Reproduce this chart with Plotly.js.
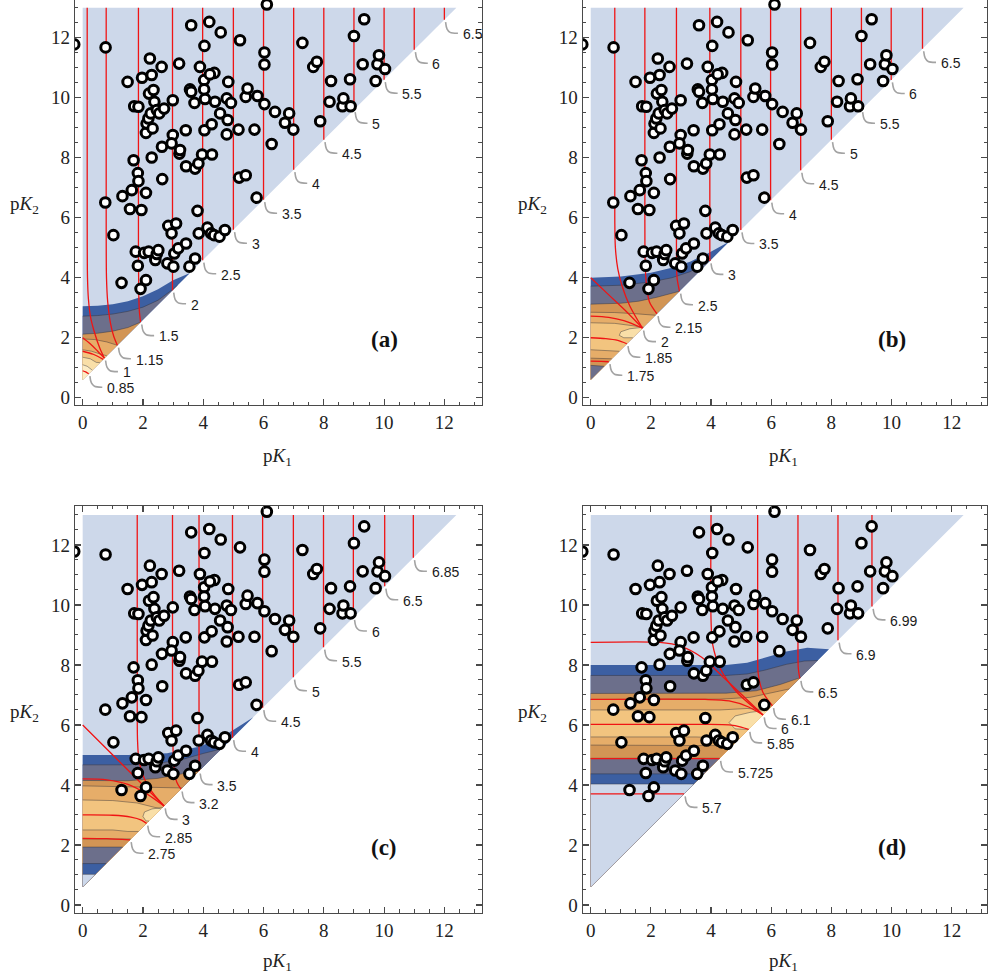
<!DOCTYPE html>
<html><head><meta charset="utf-8">
<script src="https://cdn.plot.ly/plotly-3.0.1.min.js"></script>
<style>html,body{margin:0;padding:0;background:#fff}#chart{width:988px;height:980px}</style>
</head><body><div id="chart"></div>
<script>
// ---------- scatter data (same in every panel) ----------
const pK1 = [-0.28,0.76,0.75,1.02,1.29,1.32,1.49,1.57,1.63,1.69,1.71,1.76,1.83,1.85,1.85,1.83,1.92,1.95,1.97,2.10,2.10,2.04,2.19,2.10,2.12,2.18,2.20,2.23,2.29,2.29,2.32,2.35,2.26,2.38,2.41,2.46,2.51,2.46,2.54,2.62,2.63,2.64,2.70,2.81,2.84,2.95,2.99,2.99,2.95,3.01,3.04,3.10,3.20,3.21,3.23,3.17,3.42,3.43,3.43,3.54,3.60,3.56,3.60,3.71,3.73,3.73,3.81,3.84,3.85,3.89,3.96,4.03,4.04,4.03,4.06,4.04,4.14,4.20,4.26,4.28,4.29,4.37,4.36,4.39,4.54,4.58,4.56,4.72,4.78,4.81,4.78,4.83,4.92,5.17,5.19,5.22,5.41,5.41,5.47,5.70,5.77,5.80,6.03,6.03,6.03,6.11,6.27,6.38,6.71,6.85,6.99,7.29,7.65,7.77,7.88,8.19,8.24,8.62,8.65,8.87,8.89,9.00,9.29,9.34,9.72,9.78,9.83,10.03,4.22];
const pK2 = [11.78,11.68,6.51,5.42,3.83,6.72,10.53,6.29,6.92,7.92,9.72,4.87,7.49,7.22,9.70,4.40,3.63,6.26,10.67,3.92,6.83,4.83,4.87,8.83,9.14,9.31,10.14,11.31,10.76,8.01,8.98,10.26,9.48,9.87,4.59,4.79,4.92,9.59,9.48,11.03,8.37,7.29,9.64,4.48,5.73,5.48,9.92,8.76,8.48,4.37,4.81,5.81,11.14,8.14,8.26,4.98,8.92,7.72,5.14,4.37,12.42,10.28,10.20,9.83,7.64,4.64,6.23,7.81,5.48,11.03,8.11,10.59,11.73,10.28,9.96,8.92,5.67,12.53,5.48,9.12,8.11,10.83,5.42,9.87,5.37,12.18,9.48,5.59,9.98,9.26,8.78,10.53,9.83,8.94,7.34,11.92,7.42,10.03,10.31,8.94,6.67,10.06,9.79,11.51,11.11,13.11,8.46,9.53,9.17,9.48,8.94,11.83,11.03,11.20,9.22,9.87,10.56,9.72,9.98,10.62,9.72,12.06,11.12,12.62,10.56,11.12,11.42,10.96,10.78];

// lower edge of the plotted region: pK2 = pK1 + diagOffset ; upper edge pK2 = topPK2
const diagOffset = 0.602;
const topPK2 = 13;

// ---------- panel (a) ----------
const A_blue  = [0,3.05, 0.5,3.07, 1,3.12, 1.5,3.22, 2,3.38, 2.5,3.62, 3,3.92, 3.56,4.16];
const A_gray  = [0,2.72, 0.5,2.74, 1,2.79, 1.5,2.88, 2,3.02, 2.5,3.25, 3.0,3.62, 3.15,3.75];
const A_dor   = [0,2.12, 0.5,2.15, 1,2.22, 1.5,2.34, 1.92,2.52];
const A_or    = [0,1.96, 0.4,1.94, 0.8,1.86, 1.15,1.75];
const A_lor   = [0,1.6, 0.3,1.55, 0.6,1.45, 0.8,1.4];
const A_pale  = [0,1.35, 0.25,1.3, 0.45,1.18, 0.57,1.17];
const A_vpale = [0,1.1, 0.15,1.05, 0.28,0.95, 0.32,0.92];
const A_r085 = [0,0.9, 0.1,0.86, 0.2,0.8];
const A_r1a  = [0.15,13, 0.15,6, 0.16,4, 0.19,3.3, 0.26,2.7, 0.4,2.15, 0.57,1.65, 0.72,1.32];
const A_r1b  = [0,2.0, 0.25,1.8, 0.5,1.55, 0.72,1.32];
const A_r1c  = [0,1.55, 0.35,1.45, 0.68,1.28];
const A_r115 = [0.78,13, 0.78,6, 0.79,4, 0.83,3.2, 0.92,2.5, 1.03,2.05, 1.15,1.75];
const A_r15  = [1.85,13, 1.85,5, 1.86,3.5, 1.88,2.9, 1.92,2.52];
const A_vx = [2.98, 3.98, 5, 6, 7, 8, 9, 10, 11, 12];
const A_labText = ['0.85','1','1.15','1.5','2','2.5','3','3.5','4','4.5','5','5.5','6','6.5'];
const A_labX = [0.2, 0.72, 1.15, 1.92, 2.98, 3.98, 5, 6, 7, 8, 9, 10, 11, 12];

// ---------- panel (b) ----------
const B_blue  = [0,4.0, 1,4.04, 2,4.17, 2.7,4.33, 3.3,4.53, 3.9,4.82, 4.6,5.2];
const B_gray  = [0,3.72, 1,3.75, 2,3.86, 2.7,4.0, 3.3,4.2, 4.0,4.6];
const B_dor   = [0,3.12, 1,3.15, 1.6,3.22, 2.2,3.35, 2.95,3.55];
const B_or    = [0,2.85, 0.8,2.84, 1.5,2.8, 2.15,2.75];
const B_lor   = [0,2.5, 0.8,2.48, 1.4,2.4, 1.75,2.35];
const B_or2   = [0,1.6, 0.5,1.58, 0.95,1.55];
const B_dor2  = [0,1.32, 0.4,1.31, 0.7,1.3];
const B_gray2 = [0,1.08, 0.25,1.06, 0.45,1.05];
const B_pale  = [1.75,2.35, 1.3,2.3, 1.0,2.2, 0.95,2.08, 1.1,2.0, 1.4,2.0];
const B_r2a  = [0,4.0, 0.6,3.43, 1.2,2.86, 1.72,2.32];
const B_r2b  = [0.8,13, 0.8,6, 0.82,5.0, 0.9,4.3, 1.05,3.7, 1.3,3.06, 1.72,2.32];
const B_r2c  = [0,2.72, 0.6,2.68, 1.1,2.57, 1.72,2.32];
const B_r185 = [0,2.0, 0.5,1.97, 0.9,1.91, 1.2,1.8];
const B_r175 = [0,1.22, 0.35,1.21, 0.6,1.2];
const B_r215 = [1.8,13, 1.8,6, 1.81,4.5, 1.85,3.8, 1.95,3.2, 2.2,2.8];
const B_r25  = [2.85,13, 2.85,5, 2.87,4.0, 2.95,3.55];
const B_vx = [3.96, 4.99, 5.98, 6.98, 8.0, 9.0, 9.99, 11.03];
const B_labText = ['1.75','1.85','2','2.15','2.5','3','3.5','4','4.5','5','5.5','6','6.5'];
const B_labX = [0.6, 1.2, 1.72, 2.2, 2.95, 3.96, 4.99, 5.98, 6.98, 8.0, 9.0, 9.99, 11.03];

// ---------- panel (c) ----------
const C_blue  = [0,5.0, 1.5,5.0, 2.8,5.06, 3.9,5.28, 4.75,5.67, 5.66,6.26];
const C_gray  = [0,4.67, 1.5,4.67, 2.5,4.72, 3.3,4.85, 4.0,5.05, 4.6,5.2];
const C_dor   = [0,4.15, 1.5,4.14, 2.5,4.22, 3.3,4.37, 3.95,4.55];
const C_or    = [0,3.97, 1.2,3.95, 2.2,3.92, 2.9,3.9, 3.3,3.9];
const C_lor   = [0,3.5, 1.0,3.48, 1.8,3.4, 2.6,3.2];
const C_or2   = [0,2.5, 1.0,2.5, 1.5,2.45, 1.85,2.45];
const C_dor2  = [0,2.2, 0.8,2.19, 1.6,2.2];
const C_gray2 = [0,1.93, 0.7,1.93, 1.33,1.93];
const C_blue2 = [0,1.38, 0.4,1.38, 0.78,1.38];
const C_lb2   = [0,1.02, 0.2,1.02, 0.42,1.02];
const C_pale  = [2.65,3.25, 2.3,3.2, 2.05,3.1, 2.0,2.95, 2.1,2.8, 2.2,2.8];
const C_r3a  = [0,6.0, 0.9,5.1, 1.8,4.2, 2.7,3.3];
const C_r3b  = [1.81,13, 1.81,7, 1.82,5.5, 1.87,4.8, 2.05,4.2, 2.35,3.7, 2.7,3.3];
const C_r3c  = [0,4.2, 0.8,4.17, 1.5,4.02, 2.1,3.72, 2.7,3.3];
const C_r285 = [0,3.0, 1.0,2.99, 1.6,2.93, 1.95,2.83, 2.12,2.72];
const C_r275 = [0,2.22, 0.8,2.21, 1.57,2.17];
const C_r32  = [2.98,13, 2.98,7, 2.99,5.5, 3.03,4.6, 3.12,4.1, 3.26,3.86];
const C_vx = [3.86, 4.97, 5.97, 6.99, 7.99, 8.98, 10.02, 10.97];
const C_labText = ['2.75','2.85','3','3.2','3.5','4','4.5','5','5.5','6','6.5','6.85'];
const C_labX = [1.57, 2.12, 2.7, 3.26, 3.86, 4.97, 5.97, 6.99, 7.99, 8.98, 10.02, 10.97];

// ---------- panel (d) ----------
const D_blue  = [0,8.0, 2,8.0, 4.5,8.0, 5.2,8.07, 5.8,8.25, 6.5,8.45, 7.2,8.57, 7.92,8.52];
const D_gray  = [0,7.65, 4.5,7.65, 5.2,7.7, 5.8,7.83, 6.5,8.02, 7.1,8.13, 7.55,8.15];
const D_dor   = [0,7.05, 4.5,7.06, 5.5,7.14, 6.3,7.35, 6.98,7.58];
const D_or    = [0,6.85, 4.3,6.86, 5.3,6.92, 6.0,7.08, 6.6,7.2];
const D_lor   = [0,6.5, 4.3,6.5, 5.2,6.55, 5.9,6.5];
const D_or2   = [0,5.6, 3.5,5.6, 4.6,5.56, 4.95,5.55];
const D_dor2  = [0,5.33, 3.5,5.33, 4.5,5.31, 4.7,5.3];
const D_gray2 = [0,4.89, 3.5,4.89, 4.29,4.89];
const D_blue2 = [0,4.37, 3.2,4.37, 3.77,4.37];
const D_lb2   = [0,4.03, 3,4.03, 3.43,4.03];
const D_pale  = [5.9,6.5, 5.3,6.42, 4.8,6.3, 4.6,6.08, 4.8,5.87, 5.25,5.85];
const D_r57   = [0,3.7, 3.1,3.7];
const D_r5725 = [0,4.88, 4.28,4.88];
const D_r585  = [0,6.02, 3.8,6.02, 4.6,6.0, 5.0,5.93, 5.25,5.85];
const D_r6a   = [0,6.85, 3.8,6.85, 4.6,6.8, 5.25,6.6, 5.73,6.33];
const D_r6b   = [0,8.75, 2.3,8.75, 3.0,8.62, 3.7,8.25, 4.4,7.6, 5.05,6.98, 5.73,6.33];
const D_r6c   = [4.0,13, 4.0,9.5, 4.05,8.7, 4.3,7.9, 4.85,7.1, 5.73,6.33];
const D_r61   = [5.55,13, 5.55,8.5, 5.57,7.7, 5.72,7.1, 6.04,6.64];
const D_r65   = [6.89,13, 6.89,8.5, 6.9,7.9, 6.95,7.55];
const D_vx = [8.22, 9.35];
const D_labText = ['5.7','5.725','5.85','6','6.1','6.5','6.9','6.99'];
const D_labX = [3.1, 4.28, 5.25, 5.73, 6.04, 6.95, 8.22, 9.35];

// ---------- styles ----------
const palette = {lb:'#cdd8ea', blue:'#3c5fa2', gray:'#6c6f8b', dor:'#d29555', or:'#e6ad69',
                 lor:'#f2c47f', pale:'#f9dfa8', vpale:'#fcecc5'};

const panels = [
  {ax:'', fills:[['blue',A_blue],['gray',A_gray],['dor',A_dor],['or',A_or],['lor',A_lor],['pale',A_pale],['vpale',A_vpale]],
   closed:[], red:[A_r085,A_r1a,A_r1b,A_r1c,A_r115,A_r15], vx:A_vx, labText:A_labText, labX:A_labX, tag:'(a)'},
  {ax:'2', fills:[['blue',B_blue],['gray',B_gray],['dor',B_dor],['or',B_or],['lor',B_lor],['or',B_or2],['dor',B_dor2],['gray',B_gray2]],
   closed:[['pale',B_pale]], red:[B_r2a,B_r2b,B_r2c,B_r185,B_r175,B_r215,B_r25], vx:B_vx, labText:B_labText, labX:B_labX, tag:'(b)'},
  {ax:'3', fills:[['blue',C_blue],['gray',C_gray],['dor',C_dor],['or',C_or],['lor',C_lor],['or',C_or2],['dor',C_dor2],['gray',C_gray2],['blue',C_blue2],['lb',C_lb2]],
   closed:[['pale',C_pale]], red:[C_r3a,C_r3b,C_r3c,C_r285,C_r275,C_r32], vx:C_vx, labText:C_labText, labX:C_labX, tag:'(c)'},
  {ax:'4', fills:[['blue',D_blue],['gray',D_gray],['dor',D_dor],['or',D_or],['lor',D_lor],['or',D_or2],['dor',D_dor2],['gray',D_gray2],['blue',D_blue2],['lb',D_lb2]],
   closed:[['pale',D_pale]], red:[D_r57,D_r5725,D_r585,D_r6a,D_r6b,D_r6c,D_r61,D_r65], vx:D_vx, labText:D_labText, labX:D_labX, tag:'(d)'}
];

function xy(flat){const x=[],y=[];for(let i=0;i<flat.length;i+=2){x.push(flat[i]);y.push(flat[i+1]);}return {x,y};}

const traces = [];
const annotations = [];
const serif = 'Liberation Serif, Times New Roman, serif';
const sans = 'Liberation Sans, Arial, sans-serif';
const noLine = {width:0, color:'rgba(0,0,0,0)'};

panels.forEach(p => {
  const xa = 'x'+p.ax, ya = 'y'+p.ax;
  const base = {type:'scatter', xaxis:xa, yaxis:ya, hoverinfo:'skip', showlegend:false};
  // whole region
  traces.push(Object.assign({}, base, {mode:'lines', x:[0,0,topPK2-diagOffset,0], y:[diagOffset,topPK2,topPK2,diagOffset],
    fill:'toself', fillcolor:palette.lb, line:noLine}));
  // bands: area between each boundary and the lower edge, painted top to bottom
  p.fills.forEach(([c, curve]) => {
    const d = xy(curve);
    d.x.push(0); d.y.push(diagOffset); d.x.push(d.x[0]); d.y.push(d.y[0]);
    traces.push(Object.assign({}, base, {mode:'lines', x:d.x, y:d.y, fill:'toself', fillcolor:palette[c], line:noLine}));
  });
  p.closed.forEach(([c, curve]) => {
    const d = xy(curve);
    d.x.push(d.x[0]); d.y.push(d.y[0]);
    traces.push(Object.assign({}, base, {mode:'lines', x:d.x, y:d.y, fill:'toself', fillcolor:palette[c], line:noLine}));
  });
  // thin dark contour lines on band boundaries
  const tx = [], ty = [];
  p.fills.slice(1).concat(p.closed).forEach(([c, curve]) => {
    const d = xy(curve); tx.push(...d.x, null); ty.push(...d.y, null);
  });
  traces.push(Object.assign({}, base, {mode:'lines', x:tx, y:ty, line:{width:0.8, color:'rgba(45,45,55,0.55)'}}));
  // red contour lines
  p.red.forEach(curve => {
    const d = xy(curve);
    traces.push(Object.assign({}, base, {mode:'lines', x:d.x, y:d.y, line:{width:1.3, color:'#f01414', shape:'spline', smoothing:0.8}}));
  });
  const vxs = [], vys = [];
  p.vx.forEach(v => { vxs.push(v, v, null); vys.push(topPK2, v+diagOffset, null); });
  traces.push(Object.assign({}, base, {mode:'lines', x:vxs, y:vys, line:{width:1.3, color:'#f01414'}}));
  // label leaders
  const lx = [], ly = [];
  p.labX.forEach(v => {
    const y0 = v + diagOffset;
    lx.push(v+0.04, v+0.09, v+0.19, v+0.45, null);
    ly.push(y0-0.08, y0-0.31, y0-0.42, y0-0.45, null);
    });
  traces.push(Object.assign({}, base, {mode:'lines', x:lx, y:ly, line:{width:1.6, color:'#a3a3a3', shape:'spline', smoothing:1}}));
  p.labX.forEach((v, i) => {
    annotations.push({xref:xa, yref:ya, x:v+0.57, y:v+diagOffset-0.48, text:p.labText[i], showarrow:false,
      xanchor:'left', yanchor:'middle', borderpad:0, font:{family:sans, size:14, color:'#1a1a1a'}});
  });
  annotations.push({xref:xa, yref:ya, x:10, y:1.93, text:'<b>'+p.tag+'</b>', showarrow:false,
    xanchor:'center', yanchor:'middle', font:{family:serif, size:23, color:'#111'}});
  // points
  traces.push(Object.assign({}, base, {mode:'markers', x:pK1, y:pK2,
    marker:{size:9.6, color:'#ffffff', line:{color:'#000000', width:3}}}));
});

// axis titles (horizontal, like the reference)
const t1 = 'p<i>K</i><sub>1</sub>', t2 = 'p<i>K</i><sub>2</sub>';
[[0.2804,0.5337,t1],[0.7935,0.5337,t1],[0.2804,0.0184,t1],[0.7935,0.0184,t1],
 [0.0253,0.7908,t2],[0.5385,0.7908,t2],[0.0253,0.2724,t2],[0.5385,0.2724,t2]].forEach(([x,y,t]) => {
  annotations.push({xref:'paper', yref:'paper', x:x, y:y, text:t, showarrow:false, xanchor:'center', yanchor:'middle',
    font:{family:serif, size:19, color:'#222'}});
});

function axis(range, domain, anchor, mirror){
  return {range:range, domain:domain, anchor:anchor, showline:true, linecolor:'#4a4a4a', linewidth:1.2, mirror:mirror,
    ticks:'inside', ticklen:6, tickwidth:1.1, tickcolor:'#4a4a4a', tick0:0, dtick:2,
    minor:{ticks:'inside', dtick:0.5, ticklen:3.5, tickwidth:1, tickcolor:'#4a4a4a'},
    showgrid:false, zeroline:false, fixedrange:true,
    tickfont:{family:serif, size:19, color:'#222'}};
}
const xL = [-0.255, 13.24], xR = [-0.266, 13.175];
const yT = [-0.243, 13.26], yB = [-0.257, 13.3];
const dxL = [0.0759, 0.4876], dxR = [0.5898, 0.999];
const dyT = [0.5867, 1.0], dyB = [0.0687, 0.4837];

const layout = {
  width:988, height:980, margin:{l:0,r:0,t:0,b:0}, paper_bgcolor:'#fff', plot_bgcolor:'#fff',
  showlegend:false,
  xaxis: axis(xL, dxL, 'y', false),  yaxis: axis(yT, dyT, 'x', 'ticks'),
  xaxis2:axis(xR, dxR, 'y2', false), yaxis2:axis(yT, dyT, 'x2', 'ticks'),
  xaxis3:axis(xL, dxL, 'y3', 'ticks'), yaxis3:axis(yB, dyB, 'x3', 'ticks'),
  xaxis4:axis(xR, dxR, 'y4', 'ticks'), yaxis4:axis(yB, dyB, 'x4', 'ticks'),
  annotations:annotations
};
Plotly.newPlot('chart', traces, layout, {staticPlot:true, displayModeBar:false});
</script></body></html>
